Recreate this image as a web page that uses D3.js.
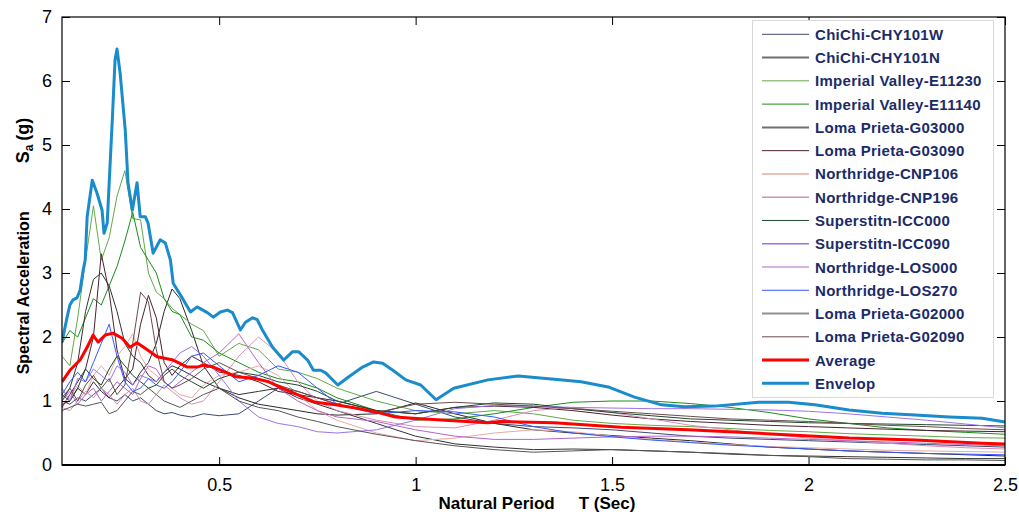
<!DOCTYPE html>
<html><head><meta charset="utf-8">
<script src="https://cdn.jsdelivr.net/npm/d3@7"></script>
<style>
html,body{margin:0;padding:0;background:#fff;}
svg{display:block;}
text{font-family:"Liberation Sans",Arial,sans-serif;}
</style></head>
<body><svg id="chart" width="1019" height="515"></svg>
<script>
// ---- data ----
const periods = [0.10,0.12,0.14,0.16,0.18,0.20,0.22,0.24,0.26,0.28,0.30,0.32,0.34,0.36,0.38,0.40,0.43,0.46,0.50,0.55,0.60,0.65,0.70,0.75,0.80,0.90,1.00,1.10,1.20,1.30,1.40,1.50,1.60,1.70,1.80,1.90,2.00,2.10,2.20,2.30,2.40,2.50];

const chichiCHY101W = [1.00,0.95,1.05,1.00,1.10,1.20,1.05,1.00,1.10,1.00,1.05,0.95,0.85,0.80,0.82,0.78,0.75,0.80,0.77,0.80,1.00,1.20,1.15,1.05,0.95,1.15,0.95,0.75,0.65,0.60,0.58,0.55,0.50,0.45,0.42,0.40,0.38,0.36,0.34,0.32,0.30,0.28];
const chichiCHY101N = [0.95,1.00,1.20,1.10,1.30,1.15,1.05,1.20,1.35,1.25,1.45,1.60,1.90,2.40,2.75,2.60,2.10,1.55,1.20,1.05,0.95,0.90,0.85,0.80,0.78,0.80,0.97,0.80,0.65,0.55,0.50,0.46,0.42,0.38,0.33,0.28,0.25,0.22,0.20,0.18,0.16,0.14];
const imperialE11230 = [1.70,1.55,2.30,3.20,4.05,3.20,3.55,4.20,4.60,3.85,3.83,3.00,2.70,2.60,2.45,2.35,2.20,2.10,1.70,1.90,1.80,1.50,1.45,1.35,1.20,1.00,0.85,0.80,0.85,0.80,0.70,0.65,0.62,0.60,0.57,0.54,0.52,0.49,0.47,0.45,0.43,0.42];
const imperialE11140 = [1.90,2.10,2.00,2.30,2.60,2.50,2.80,3.10,3.50,3.95,3.40,3.20,3.00,2.60,2.40,2.35,2.00,1.95,1.75,1.60,1.45,1.35,1.30,1.20,1.05,0.85,0.70,0.72,0.80,0.90,0.98,1.00,1.00,0.96,0.90,0.82,0.72,0.65,0.58,0.54,0.51,0.48];
const lomaG03000 = [1.00,1.20,1.60,2.40,2.90,3.00,2.80,2.40,1.90,1.70,1.60,1.40,1.30,1.45,1.55,1.50,1.40,1.30,1.20,1.10,1.15,1.20,1.05,0.95,0.85,0.65,0.45,0.33,0.28,0.24,0.25,0.24,0.22,0.20,0.17,0.15,0.14,0.13,0.12,0.11,0.10,0.10];
const lomaG03090 = [0.90,1.10,1.30,1.50,2.00,3.30,2.70,1.80,1.35,1.50,2.20,2.65,2.30,1.60,1.40,1.55,1.70,1.60,1.45,1.40,1.30,1.15,1.10,1.05,1.00,0.85,0.80,0.90,0.92,0.90,0.85,0.78,0.72,0.68,0.65,0.62,0.60,0.58,0.56,0.54,0.53,0.52];
const northCNP106 = [0.95,1.05,1.25,1.10,1.40,1.55,1.40,1.70,1.85,2.05,1.70,1.50,1.40,1.30,1.20,1.10,1.05,1.25,1.40,1.45,1.55,1.40,1.10,0.85,0.70,0.50,0.38,0.42,0.50,0.55,0.52,0.45,0.40,0.36,0.32,0.29,0.27,0.25,0.23,0.22,0.21,0.20];
const northCNP196 = [0.90,0.85,1.00,1.15,1.05,1.20,1.10,0.95,1.10,1.20,1.00,0.95,1.10,1.25,1.15,1.05,0.95,1.00,1.30,1.70,2.00,1.75,1.30,1.00,0.85,0.70,0.60,0.58,0.70,0.85,0.90,0.82,0.72,0.62,0.55,0.48,0.42,0.38,0.34,0.30,0.27,0.25];
const superICC000 = [1.10,1.00,1.20,1.50,1.35,1.25,1.50,1.70,1.55,1.40,1.30,1.20,1.25,1.40,1.50,1.40,1.30,1.20,1.35,1.45,1.40,1.30,1.25,1.15,1.00,0.85,0.80,0.90,0.97,0.95,0.88,0.82,0.77,0.72,0.70,0.68,0.66,0.65,0.64,0.63,0.62,0.61];
const superICC090 = [1.20,1.00,1.35,1.30,1.50,1.40,1.30,1.55,1.45,1.25,1.40,1.35,1.30,1.45,1.60,1.75,1.85,1.70,1.40,1.00,0.75,0.65,0.60,0.52,0.50,0.55,0.70,0.88,0.93,0.92,0.90,0.89,0.88,0.88,0.87,0.86,0.84,0.80,0.75,0.70,0.64,0.58];
const northLOS000 = [1.00,1.15,0.95,1.10,1.20,1.00,1.15,1.30,1.20,1.10,1.35,1.55,1.50,1.30,1.20,1.30,1.45,1.60,1.75,2.05,1.60,1.20,1.00,0.85,0.75,0.68,0.55,0.45,0.40,0.40,0.42,0.44,0.45,0.45,0.44,0.42,0.40,0.38,0.36,0.34,0.32,0.30];
const northLOS270 = [1.10,1.30,1.45,1.30,1.60,1.90,2.20,1.70,1.30,1.15,1.20,1.35,1.25,1.20,1.30,1.45,1.70,1.75,1.55,1.30,1.40,1.55,1.45,1.20,0.95,0.80,0.85,0.83,0.75,0.60,0.50,0.44,0.39,0.35,0.31,0.28,0.25,0.22,0.20,0.18,0.17,0.16];
const lomaG02000 = [0.85,0.90,0.95,0.92,0.95,0.98,0.80,0.85,1.00,1.15,1.10,1.20,1.10,1.00,0.95,0.90,1.00,1.10,1.20,1.00,0.90,0.85,0.75,0.68,0.60,0.48,0.38,0.30,0.24,0.20,0.22,0.24,0.22,0.20,0.18,0.15,0.13,0.10,0.09,0.08,0.08,0.07];
const lomaG02090 = [1.05,1.20,1.00,1.25,1.40,1.20,1.35,1.10,1.25,1.90,2.70,2.55,1.80,1.30,1.20,1.25,1.35,1.50,1.60,1.45,1.35,1.25,1.15,1.05,0.95,0.82,0.95,0.98,0.95,0.92,0.88,0.84,0.80,0.76,0.72,0.70,0.68,0.65,0.62,0.60,0.57,0.55];

const averageT  = [0.100,0.120,0.146,0.164,0.179,0.192,0.210,0.230,0.253,0.273,0.291,0.317,0.342,0.383,0.419,0.444,0.460,0.485,0.521,0.541,0.585,0.626,0.661,0.702,0.745,0.796,0.847,0.898,0.949,0.993,1.097,1.184,1.215,1.353,1.523,1.694,1.863,2.103,2.271,2.442,2.500];
const averageSa = [1.30,1.48,1.64,1.84,2.03,1.92,2.03,2.06,1.98,1.84,1.91,1.80,1.69,1.64,1.53,1.53,1.56,1.53,1.44,1.38,1.36,1.30,1.20,1.09,0.98,0.94,0.89,0.83,0.75,0.73,0.69,0.66,0.68,0.66,0.59,0.55,0.50,0.42,0.39,0.34,0.33];

const envelopT  = [0.100,0.113,0.120,0.128,0.138,0.146,0.154,0.159,0.164,0.177,0.189,0.202,0.207,0.215,0.228,0.235,0.240,0.248,0.261,0.268,0.279,0.291,0.299,0.312,0.319,0.332,0.350,0.363,0.376,0.383,0.409,0.427,0.444,0.470,0.485,0.503,0.521,0.534,0.554,0.567,0.585,0.597,0.610,0.636,0.664,0.687,0.702,0.725,0.740,0.758,0.771,0.802,0.830,0.865,0.893,0.916,0.942,0.975,1.013,1.052,1.097,1.184,1.261,1.353,1.421,1.490,1.557,1.626,1.684,1.761,1.873,1.949,2.016,2.103,2.187,2.271,2.358,2.442,2.500];
const envelopSa = [1.92,2.31,2.50,2.58,2.61,2.73,3.05,3.20,3.88,4.45,4.25,3.98,3.62,3.78,5.39,6.33,6.50,6.12,5.23,4.41,3.98,4.41,3.88,3.88,3.78,3.31,3.52,3.47,3.20,2.84,2.58,2.39,2.47,2.38,2.31,2.39,2.42,2.38,2.11,2.23,2.30,2.27,2.11,1.84,1.64,1.77,1.77,1.64,1.48,1.48,1.44,1.25,1.38,1.53,1.61,1.59,1.48,1.33,1.25,1.02,1.20,1.33,1.39,1.34,1.30,1.22,1.06,0.94,0.91,0.92,0.98,0.98,0.94,0.86,0.81,0.78,0.75,0.73,0.67];

const xTicks = [0.5,1,1.5,2,2.5];
const yTicks = [0,1,2,3,4,5,6,7];
const legendLabels = ["ChiChi-CHY101W","ChiChi-CHY101N","Imperial Valley-E11230","Imperial Valley-E11140","Loma Prieta-G03000","Loma Prieta-G03090","Northridge-CNP106","Northridge-CNP196","Superstitn-ICC000","Superstitn-ICC090","Northridge-LOS000","Northridge-LOS270","Loma Prieta-G02000","Loma Prieta-G02090","Average","Envelop"];

// ---- styles ----
const seriesValues = [chichiCHY101W,chichiCHY101N,imperialE11230,imperialE11140,lomaG03000,lomaG03090,northCNP106,northCNP196,superICC000,superICC090,northLOS000,northLOS270,lomaG02000,lomaG02090];
const seriesColors = ["#3c4a6e","#2a2a2a","#63a84a","#1c8c1c","#333333","#4a2232","#e8aaa2","#d88fb6","#1d4a2c","#9b73e8","#b266c8","#3559ff","#555555","#6a4c4c"];
const legendColors = ["#3c4a6e","#6e6e6e","#63a84a","#1c8c1c","#6e6e6e","#4a2232","#e8aaa2","#d88fb6","#1d4a2c","#9b73e8","#b266c8","#3559ff","#909090","#6a4c4c","#ff0000","#1a8bcb"];
const legendWidths = [1,2,1,1,2,1,1.5,1.5,1,1.5,1,1,2,1,3,3];

const svg = d3.select("#chart");
const m = {left:62, right:1005, top:17, bottom:465};
const x = d3.scaleLinear().domain([0.1,2.5]).range([m.left,m.right]);
const y = d3.scaleLinear().domain([0,7]).range([m.bottom,m.top]);

svg.append("defs").append("clipPath").attr("id","clip")
  .append("rect").attr("x",m.left).attr("y",m.top).attr("width",m.right-m.left).attr("height",m.bottom-m.top);

const plot = svg.append("g").attr("clip-path","url(#clip)");
const line = d3.line().x(d=>x(d[0])).y(d=>y(d[1]));

seriesValues.forEach((vals,i)=>{
  plot.append("path").datum(periods.map((t,j)=>[t,vals[j]]))
    .attr("d",line).attr("fill","none").attr("stroke",seriesColors[i]).attr("stroke-width",1);
});
plot.append("path").datum(averageT.map((t,j)=>[t,averageSa[j]]))
  .attr("d",line).attr("fill","none").attr("stroke","#ff0000").attr("stroke-width",3).attr("stroke-linejoin","round");
plot.append("path").datum(envelopT.map((t,j)=>[t,envelopSa[j]]))
  .attr("d",line).attr("fill","none").attr("stroke","#1a8bcb").attr("stroke-width",3).attr("stroke-linejoin","round");

// axes (MATLAB-style inward ticks on all sides)
const tl = 8;
const ax = svg.append("g");
ax.append("g").attr("transform",`translate(0,${m.bottom})`)
  .call(d3.axisBottom(x).tickValues(xTicks).tickSize(-tl).tickPadding(13).tickFormat(d3.format("")))
  .call(g=>g.select(".domain").remove());
ax.append("g").attr("transform",`translate(0,${m.top})`)
  .call(d3.axisTop(x).tickValues(xTicks).tickSize(-tl).tickFormat(""))
  .call(g=>g.select(".domain").remove());
ax.append("g").attr("transform",`translate(${m.left},0)`)
  .call(d3.axisLeft(y).tickValues(yTicks).tickSize(-tl).tickPadding(10).tickFormat(d3.format("d")))
  .call(g=>g.select(".domain").remove());
ax.append("g").attr("transform",`translate(${m.right},0)`)
  .call(d3.axisRight(y).tickValues(yTicks).tickSize(-tl).tickFormat(""))
  .call(g=>g.select(".domain").remove());
ax.selectAll(".tick line").attr("stroke","#000").attr("stroke-width",1);
ax.selectAll(".tick text").attr("font-size",18).attr("font-family","'Liberation Sans',Arial,sans-serif").attr("fill","#000");
ax.append("rect").attr("x",m.left).attr("y",m.top).attr("width",m.right-m.left).attr("height",m.bottom-m.top)
  .attr("fill","none").attr("stroke","#000").attr("stroke-width",1.2);
ax.append("line").attr("x1",m.left).attr("x2",m.right).attr("y1",m.bottom).attr("y2",m.bottom).attr("stroke","#000").attr("stroke-width",2);

// axis labels
const xl = svg.append("text").attr("x",537).attr("y",509).attr("text-anchor","middle")
  .attr("font-size",17).attr("font-weight","bold");
xl.append("tspan").text("Natural Period");
xl.append("tspan").attr("dx",24).text("T (Sec)");
const yl = svg.append("text").attr("transform","translate(29,246) rotate(-90)").attr("text-anchor","middle")
  .attr("font-size",16).attr("font-weight","bold");
yl.append("tspan").text("Spectral Acceleration");
yl.append("tspan").attr("dx",48).attr("font-size",18).text("S");
yl.append("tspan").attr("font-size",12).attr("dy",4).text("a");
yl.append("tspan").attr("font-size",18).attr("dy",-4).attr("dx",4).text("(g)");

// legend
const lg = svg.append("g");
lg.append("rect").attr("x",752.5).attr("y",20.5).attr("width",241).attr("height",377)
  .attr("fill","#fff").attr("stroke","#d8d8d8").attr("stroke-width",1);
legendLabels.forEach((lab,i)=>{
  const yy = 34.3 + i*23.27;
  lg.append("line").attr("x1",762).attr("x2",809).attr("y1",yy).attr("y2",yy)
    .attr("stroke",legendColors[i]).attr("stroke-width",legendWidths[i]);
  lg.append("text").attr("x",815).attr("y",yy+5.5).attr("font-size",15).attr("font-weight","bold")
    .attr("letter-spacing",0.3).attr("fill","#1b2b68").text(lab);
});
</script></body></html>
